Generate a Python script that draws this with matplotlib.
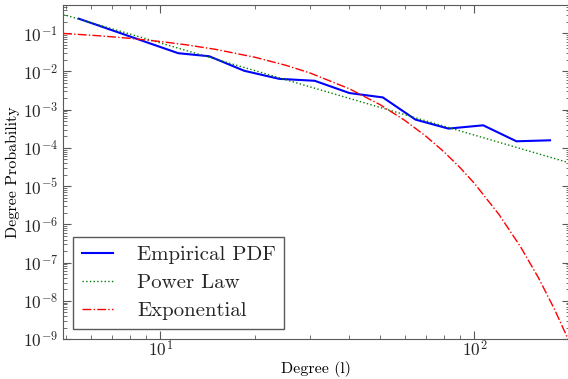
import matplotlib
matplotlib.use('Agg')
import matplotlib.pyplot as plt

# empirical pdf (log-binned degrees)
emp_x = [5.5, 11.4, 14.3, 18.5, 23.9, 31.0, 40.0, 51.1, 64.9, 82.6, 106.6, 136.0, 174.0]
emp_y = [0.24, 0.030, 0.0250, 0.0104, 0.0064, 0.0057, 0.00272, 0.00209,
         0.00055, 0.00032, 0.00039, 0.000149, 0.000158]

# fitted power law
pl_x = [4.9, 10, 20, 50, 100, 200]
pl_y = [0.31, 0.0557, 0.0105, 0.00115, 0.000216, 4.08e-5]

# fitted exponential
ex_x = [4.9, 6, 7, 8, 10, 12, 15, 20, 25, 30, 40, 50, 60, 70, 80, 90,
        100, 120, 140, 160, 180, 200]
ex_y = [0.0986, 0.0888, 0.0807, 0.0734, 0.0607, 0.0502, 0.0378, 0.0235,
        0.0146, 0.00908, 0.00351, 0.00136, 0.000525, 0.000203, 7.86e-5,
        3.04e-5, 1.175e-5, 1.76e-6, 2.63e-7, 3.94e-8, 5.89e-9, 8.8e-10]

plt.rcParams['font.family'] = 'serif'
plt.rcParams['font.serif'] = ['cmr10']
plt.rcParams['mathtext.fontset'] = 'cm'
plt.rcParams['axes.formatter.use_mathtext'] = True
plt.rcParams['axes.unicode_minus'] = False

fig = plt.figure(figsize=(5.68, 3.79), dpi=100)
ax = fig.add_axes([0.111, 0.1055, 0.892, 0.8815])

ax.plot(emp_x, emp_y, color='b', lw=1.5, label='Empirical PDF')
ax.plot(pl_x, pl_y, color='g', lw=1.0, ls=':', label='Power Law')
ax.plot(ex_x, ex_y, color='r', lw=1.0, ls='-.', label='Exponential')

ax.set_xscale('log')
ax.set_yscale('log')
ax.set_xlim(4.9, 201)
ax.set_ylim(1e-9, 0.55)

ax.set_xlabel('Degree (l)', fontsize=11.5, labelpad=1)
ax.set_ylabel('Degree Probability', fontsize=11.5, labelpad=2)

for s in ax.spines.values():
    s.set_color('0.35')
ax.tick_params(which='both', direction='in', top=True, right=True, colors='0.35',
               labelcolor='0.15')
ax.tick_params(which='major', length=6, labelsize=12.5)
ax.tick_params(which='minor', length=3)
ax.tick_params(axis='x', which='major', pad=0)

leg = ax.legend(loc='lower left', fontsize=15, handlelength=1.5, handletextpad=1.15,
                labelspacing=0.45, borderaxespad=0.5, fancybox=False, framealpha=1)
leg.get_frame().set_edgecolor('0.35')
for t in leg.get_texts():
    t.set_color('0.15')

fig.savefig('out.png', dpi=100)
